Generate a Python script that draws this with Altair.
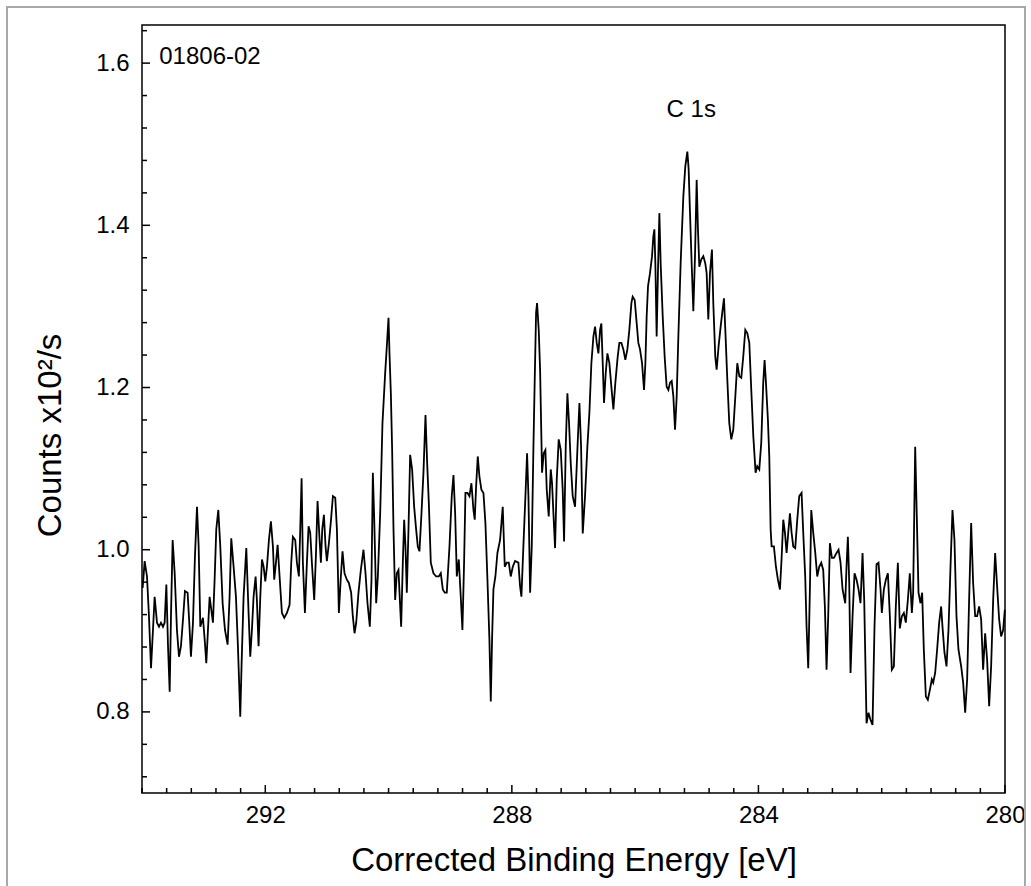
import altair as alt
import pandas as pd

FONT = "Liberation Sans"

# ---- spectrum (binding energy in eV, counts x10^2/s) ----
energy_a = [293.989, 293.957, 293.919, 293.887, 293.854, 293.822, 293.795, 293.757, 293.724, 293.692,
            293.660, 293.633, 293.605, 293.578, 293.551, 293.530, 293.503, 293.470, 293.433, 293.400,
            293.368, 293.335, 293.303, 293.260, 293.233, 293.206, 293.173, 293.141, 293.108, 293.081,
            293.054, 293.011, 292.979, 292.957, 292.930, 292.903, 292.876, 292.849, 292.822, 292.795,
            292.762, 292.730, 292.692, 292.654, 292.611, 292.579, 292.552, 292.514, 292.476, 292.444,
            292.406, 292.384, 292.352, 292.308, 292.271, 292.244, 292.217, 292.190, 292.157, 292.136,
            292.109, 292.081, 292.054, 292.027, 292.000, 291.973, 291.941, 291.909, 291.876, 291.855,
            291.827, 291.800, 291.768, 291.730, 291.692, 291.649, 291.606, 291.579, 291.552, 291.514,
            291.487, 291.455, 291.433, 291.411, 291.390, 291.357, 291.325, 291.298, 291.271, 291.244,
            291.206, 291.179, 291.152, 291.119, 291.098, 291.076, 291.049, 291.022, 291.001, 290.968,
            290.936, 290.903, 290.865, 290.838, 290.806]
counts_a = [0.953, 0.986, 0.967, 0.918, 0.854, 0.901, 0.942, 0.910, 0.905, 0.910,
            0.905, 0.910, 0.957, 0.881, 0.825, 0.918, 1.012, 0.971, 0.901, 0.868,
            0.881, 0.914, 0.949, 0.947, 0.910, 0.868, 0.910, 0.992, 1.053, 1.004,
            0.905, 0.916, 0.885, 0.860, 0.901, 0.942, 0.926, 0.910, 0.963, 1.025,
            1.049, 1.004, 0.934, 0.901, 0.883, 0.942, 1.014, 0.979, 0.942, 0.881,
            0.794, 0.860, 0.942, 1.002, 0.922, 0.868, 0.901, 0.942, 0.967, 0.938,
            0.881, 0.942, 0.988, 0.979, 0.961, 0.979, 1.012, 1.035, 1.004, 0.963,
            0.984, 1.006, 0.967, 0.922, 0.916, 0.922, 0.932, 0.984, 1.016, 1.012,
            0.984, 0.967, 1.025, 1.088, 0.984, 0.922, 0.984, 1.029, 1.021, 0.984,
            0.938, 0.992, 1.060, 1.012, 0.984, 1.025, 1.043, 1.004, 0.986, 1.008,
            1.035, 1.066, 1.064, 1.025, 0.922]

energy_b = [290.774, 290.747, 290.715, 290.677, 290.644, 290.607, 290.580, 290.552, 290.525, 290.488,
            290.450, 290.407, 290.374, 290.342, 290.304, 290.277, 290.255, 290.234, 290.217, 290.201,
            290.174, 290.136, 290.099, 290.055, 290.028, 290.001, 289.985, 289.963, 289.942, 289.920,
            289.893, 289.866, 289.839, 289.812, 289.796, 289.769, 289.747, 289.726, 289.704, 289.677,
            289.650, 289.618, 289.585, 289.553, 289.526, 289.499, 289.466, 289.434, 289.401, 289.374,
            289.347, 289.315, 289.272, 289.228, 289.185, 289.153, 289.120, 289.088, 289.056, 289.012,
            288.975, 288.947, 288.920, 288.893, 288.861, 288.829, 288.802, 288.775, 288.753, 288.720,
            288.688, 288.656, 288.623, 288.602, 288.580, 288.553, 288.526, 288.494, 288.461, 288.429,
            288.396, 288.364, 288.342, 288.320, 288.299, 288.267, 288.234, 288.191, 288.148, 288.115,
            288.083, 288.050, 288.018, 287.985, 287.948, 287.894, 287.867, 287.845, 287.813, 287.780,
            287.753, 287.731, 287.704, 287.677, 287.650, 287.629, 287.607, 287.591, 287.564, 287.542,
            287.510, 287.483, 287.456, 287.434, 287.402, 287.369, 287.348, 287.326, 287.299, 287.272,
            287.240]
counts_b = [0.967, 0.998, 0.971, 0.963, 0.959, 0.947, 0.918, 0.897, 0.910, 0.947,
            0.975, 1.000, 0.971, 0.934, 0.905, 0.963, 1.095, 1.041, 0.988, 0.934,
            0.967, 1.045, 1.156, 1.218, 1.251, 1.286, 1.242, 1.193, 1.123, 1.025,
            0.938, 0.971, 0.975, 0.930, 0.905, 0.984, 1.037, 1.004, 0.947, 1.025,
            1.117, 1.099, 1.053, 1.025, 1.004, 0.998, 1.045, 1.095, 1.166, 1.107,
            1.058, 0.984, 0.971, 0.967, 0.967, 0.971, 0.951, 0.947, 0.947, 1.004,
            1.066, 1.092, 1.045, 0.967, 0.988, 0.942, 0.901, 0.984, 1.070, 1.070,
            1.066, 1.082, 1.049, 1.037, 1.078, 1.115, 1.090, 1.074, 1.070, 1.033,
            0.963, 0.889, 0.813, 0.893, 0.951, 0.967, 0.996, 1.012, 1.053, 0.979,
            0.984, 0.984, 0.967, 0.979, 0.986, 0.984, 0.955, 0.942, 1.004, 1.066,
            1.119, 1.066, 0.947, 1.004, 1.127, 1.210, 1.292, 1.304, 1.271, 1.222,
            1.095, 1.119, 1.123, 1.074, 1.041, 1.099, 1.082, 1.045, 1.002, 1.086,
            1.136]

energy_c = [287.207, 287.175, 287.153, 287.126, 287.099, 287.072, 287.045, 287.013, 286.975, 286.937,
            286.904, 286.877, 286.850, 286.813, 286.775, 286.742, 286.710, 286.677, 286.650, 286.623,
            286.596, 286.569, 286.548, 286.526, 286.505, 286.477, 286.450, 286.418, 286.386, 286.353,
            286.321, 286.283, 286.256, 286.223, 286.191, 286.159, 286.126, 286.094, 286.061, 286.040,
            286.007, 285.975, 285.948, 285.921, 285.888, 285.856, 285.834, 285.813, 285.791, 285.759,
            285.726, 285.705, 285.688, 285.672, 285.651, 285.629, 285.607, 285.586, 285.553, 285.521,
            285.489, 285.461, 285.434, 285.407, 285.380, 285.353, 285.326, 285.299, 285.262, 285.218,
            285.186, 285.153, 285.132, 285.110, 285.083, 285.056, 285.029, 285.002, 284.981, 284.959,
            284.927, 284.894, 284.862, 284.840, 284.813, 284.786, 284.754, 284.732, 284.700, 284.678,
            284.646, 284.613, 284.581, 284.559, 284.537, 284.505, 284.473, 284.440, 284.408, 284.375,
            284.343, 284.310, 284.278, 284.246, 284.213, 284.181, 284.148, 284.116, 284.083, 284.046,
            284.019, 283.986, 283.954, 283.922, 283.900, 283.878, 283.846, 283.824, 283.802]
counts_c = [1.123, 1.074, 1.010, 1.127, 1.193, 1.156, 1.107, 1.066, 1.053, 1.123,
            1.181, 1.127, 1.020, 1.066, 1.127, 1.169, 1.230, 1.263, 1.275, 1.255,
            1.242, 1.271, 1.279, 1.230, 1.181, 1.218, 1.242, 1.230, 1.201, 1.173,
            1.206, 1.238, 1.255, 1.255, 1.247, 1.234, 1.247, 1.271, 1.304, 1.312,
            1.308, 1.279, 1.255, 1.247, 1.230, 1.197, 1.230, 1.288, 1.325, 1.341,
            1.362, 1.386, 1.395, 1.353, 1.263, 1.345, 1.415, 1.353, 1.288, 1.238,
            1.201, 1.197, 1.206, 1.208, 1.189, 1.148, 1.189, 1.263, 1.353, 1.436,
            1.473, 1.491, 1.469, 1.415, 1.353, 1.294, 1.362, 1.456, 1.395, 1.349,
            1.358, 1.362, 1.353, 1.341, 1.284, 1.341, 1.370, 1.304, 1.238, 1.222,
            1.251, 1.275, 1.296, 1.310, 1.271, 1.210, 1.156, 1.136, 1.148, 1.189,
            1.230, 1.214, 1.212, 1.238, 1.271, 1.267, 1.255, 1.197, 1.140, 1.095,
            1.103, 1.099, 1.132, 1.206, 1.234, 1.206, 1.160, 1.115, 1.025]

energy_d = [283.786, 283.749, 283.716, 283.684, 283.651, 283.625, 283.597, 283.570, 283.543, 283.516,
            283.489, 283.462, 283.435, 283.403, 283.370, 283.338, 283.300, 283.273, 283.241, 283.219,
            283.192, 283.165, 283.143, 283.111, 283.078, 283.046, 283.014, 282.981, 282.949, 282.922,
            282.895, 282.868, 282.841, 282.808, 282.776, 282.733, 282.700, 282.668, 282.635, 282.592,
            282.571, 282.549, 282.527, 282.506, 282.473, 282.441, 282.408, 282.376, 282.344, 282.311,
            282.284, 282.246, 282.214, 282.181, 282.149, 282.117, 282.084, 282.052, 282.019, 281.998,
            281.965, 281.933, 281.900, 281.868, 281.836, 281.803, 281.771, 281.738, 281.706, 281.673,
            281.641, 281.609, 281.576, 281.544, 281.511, 281.490, 281.457, 281.436, 281.403, 281.371,
            281.344, 281.317, 281.284, 281.252, 281.219, 281.187, 281.165, 281.133, 281.101, 281.068,
            281.036, 281.014, 280.982, 280.949, 280.917, 280.884, 280.852, 280.820, 280.787, 280.755,
            280.711, 280.679, 280.646, 280.614, 280.582, 280.549, 280.517, 280.484, 280.452, 280.420,
            280.387, 280.355, 280.322, 280.290, 280.257, 280.225, 280.192, 280.160, 280.128, 280.095,
            280.063, 280.030, 280.003]
counts_d = [1.004, 1.004, 0.979, 0.963, 0.951, 0.988, 1.037, 1.021, 0.996, 1.021,
            1.045, 1.021, 1.004, 1.002, 1.037, 1.066, 1.070, 1.021, 0.967, 0.905,
            0.854, 0.951, 1.049, 1.021, 0.996, 0.967, 0.979, 0.984, 0.975, 0.930,
            0.852, 0.918, 1.008, 0.990, 0.990, 0.996, 1.000, 0.984, 0.951, 0.934,
            0.979, 1.016, 0.959, 0.848, 0.918, 0.971, 0.963, 0.951, 0.934, 0.996,
            0.938, 0.786, 0.799, 0.790, 0.784, 0.905, 0.982, 0.984, 0.951, 0.922,
            0.951, 0.963, 0.971, 0.918, 0.852, 0.856, 0.930, 0.984, 0.903, 0.918,
            0.922, 0.910, 0.938, 0.971, 0.922, 0.947, 1.127, 1.058, 0.947, 0.934,
            0.947, 0.877, 0.819, 0.815, 0.827, 0.840, 0.836, 0.848, 0.877, 0.910,
            0.930, 0.905, 0.873, 0.856, 0.901, 0.979, 1.049, 1.012, 0.918, 0.877,
            0.856, 0.836, 0.799, 0.840, 0.938, 1.033, 0.959, 0.918, 0.918, 0.930,
            0.914, 0.852, 0.897, 0.864, 0.807, 0.856, 0.938, 0.996, 0.955, 0.914,
            0.893, 0.901, 0.926]

energy = energy_a + energy_b + energy_c + energy_d
counts = counts_a + counts_b + counts_c + counts_d

# ---- axis ticks and annotations ----
x_major = [292, 288, 284, 280]
x_minor = [round(280 + 0.4 * k, 1) for k in range(1, 36) if k % 10 != 0]
y_major = [0.8, 1.0, 1.2, 1.4, 1.6]
y_minor = [round(0.72 + 0.04 * k, 2) for k in range(0, 24) if (k + 3) % 5 != 0]

label_text = ["01806-02", "C 1s"]
label_energy = [293.72, 285.09]
label_counts = [1.607, 1.5425]
label_align = ["left", "center"]

W, H = 863, 768

df = pd.DataFrame({"E": energy, "C": counts, "i": list(range(len(energy)))})
xs = alt.Scale(domain=[280, 294], reverse=True, nice=False, zero=False)
ys = alt.Scale(domain=[0.7, 1.647], nice=False, zero=False)

x_axis = alt.Axis(
    values=x_major, format="d", ticks=False, domain=False, grid=False,
    labelFontSize=24, labelPadding=10, labelColor="black", labelFlush=False,
    labelFont=FONT,
    title="Corrected Binding Energy [eV]", titleFontSize=33, titleFontWeight="normal",
    titleFont=FONT, titleColor="black",
    titleX=W / 2, titleY=67, titleAlign="center", titleBaseline="middle")
y_axis = alt.Axis(
    values=y_major, format=".1f", ticks=False, domain=False, grid=False,
    labelFontSize=24, labelPadding=13, labelColor="black", labelFlush=False,
    labelFont=FONT,
    title="Counts x10²/s", titleFontSize=33, titleFontWeight="normal",
    titleFont=FONT, titleColor="black", titleAngle=270,
    titleX=-92, titleY=410, titleAlign="center", titleBaseline="middle")

line = alt.Chart(df).mark_line(color="black", strokeWidth=1.8).encode(
    x=alt.X("E:Q", scale=xs, axis=x_axis),
    y=alt.Y("C:Q", scale=ys, axis=y_axis),
    order="i:Q",
)

def xticks(vals, length):
    return alt.Chart(pd.DataFrame({"E": vals})).mark_rule(color="black", strokeWidth=1.5).encode(
        x=alt.X("E:Q", scale=xs, axis=x_axis),
        y=alt.value(H), y2=alt.value(H - length))

def yticks(vals, length):
    return alt.Chart(pd.DataFrame({"C": vals})).mark_rule(color="black", strokeWidth=1.5).encode(
        y=alt.Y("C:Q", scale=ys, axis=y_axis),
        x=alt.value(0), x2=alt.value(length))

labels_df = pd.DataFrame({"E": label_energy, "C": label_counts, "txt": label_text, "al": label_align})
text_left = alt.Chart(labels_df[labels_df.al == "left"]).mark_text(
    align="left", baseline="middle", fontSize=24, font=FONT, color="black").encode(
    x=alt.X("E:Q", scale=xs, axis=x_axis), y=alt.Y("C:Q", scale=ys, axis=y_axis), text="txt:N")
text_center = alt.Chart(labels_df[labels_df.al == "center"]).mark_text(
    align="center", baseline="middle", fontSize=24, font=FONT, color="black").encode(
    x=alt.X("E:Q", scale=xs, axis=x_axis), y=alt.Y("C:Q", scale=ys, axis=y_axis), text="txt:N")

frame = alt.Chart(pd.DataFrame({"k": [0]})).mark_rect(
    fillOpacity=0, stroke="#a8a8a8", strokeWidth=2).encode(
    x=alt.value(-135), x2=alt.value(883), y=alt.value(-18), y2=alt.value(900))

chart = alt.layer(
    frame, line,
    xticks(x_major, 8), xticks(x_minor, 5),
    yticks(y_major, 8), yticks(y_minor, 5),
    text_left, text_center,
).properties(
    width=W, height=H,
    autosize=alt.AutoSizeParams(type="none"),
    padding={"left": 142, "top": 25, "right": 26, "bottom": 93},
    background="white",
).configure_view(stroke="black", strokeWidth=1.5)

chart.save("out.html", embed_options={"renderer": "svg", "actions": False})
